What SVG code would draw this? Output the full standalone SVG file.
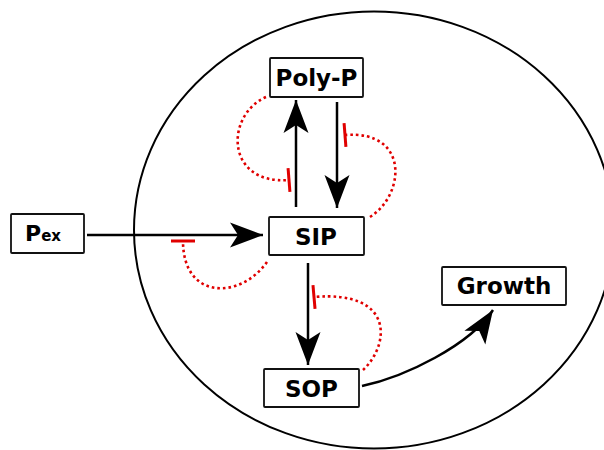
<svg xmlns="http://www.w3.org/2000/svg" width="604" height="450" viewBox="0 0 604 450">
  <style>
    .box { fill: #ffffff; stroke: #111111; stroke-width: 1.8; }
    .lbl { font-family: "DejaVu Sans", "Liberation Sans", sans-serif; font-weight: bold; font-size: 23px; fill: #000000; text-anchor: middle; }
    .act { fill: none; stroke: #000000; stroke-width: 2.5; marker-end: url(#arrow); }
    .inh { fill: none; stroke: #e00000; stroke-width: 2.6; stroke-dasharray: 2.6 3; marker-end: url(#tbar); }
  </style>
  <defs>
    <!-- concave-backed arrowhead, tip at the path end -->
    <marker id="arrow" markerUnits="userSpaceOnUse" viewBox="-34 -14 36 28" refX="0" refY="0" markerWidth="36" markerHeight="28" orient="auto">
      <path d="M0,0 L-33,-12.5 L-25,0 L-33,12.5 Z" fill="#000000"/>
    </marker>
    <!-- flat inhibition bar across the path end -->
    <marker id="tbar" markerUnits="userSpaceOnUse" viewBox="-3 -14 6 28" refX="0" refY="0" markerWidth="6" markerHeight="28" orient="auto">
      <line x1="0" y1="-12" x2="0" y2="12" stroke="#e00000" stroke-width="3"/>
    </marker>
  </defs>

  <rect width="604" height="450" fill="#ffffff"/>

  <!-- cell boundary -->
  <ellipse cx="374" cy="230" rx="240" ry="218.5" fill="none" stroke="#000000" stroke-width="2"/>

  <g id="connectors">
    <!-- activations -->
    <path class="act" d="M87,235 L263,235"/>
    <path class="act" d="M296,207 L296,100"/>
    <path class="act" d="M337,102 L337,208"/>
    <path class="act" d="M308,263 L308,365"/>
    <path class="act" d="M362,386 C405,377 470,345 493,310"/>
    <!-- inhibitions -->
    <path class="inh" d="M266,97 C225,115 225,185 289,180"/>
    <path class="inh" d="M370,217 C405,195 410,130 345,135"/>
    <path class="inh" d="M267,262 C240,300 183,300 183,241"/>
    <path class="inh" d="M363,370 C390,345 395,290 314,297"/>
  </g>

  <g id="pex">
    <rect class="box" x="11" y="214" width="73" height="39" rx="1"/>
    <text class="lbl" x="43" y="240.5"><tspan font-size="22">P</tspan><tspan font-size="15">ex</tspan></text>
  </g>
  <g id="polyp">
    <rect class="box" x="270" y="58" width="93" height="39" rx="1"/>
    <text class="lbl" x="316.5" y="85.5">Poly-P</text>
  </g>
  <g id="sip">
    <rect class="box" x="269" y="217" width="95" height="38" rx="1"/>
    <text class="lbl" x="316" y="245">SIP</text>
  </g>
  <g id="sop">
    <rect class="box" x="264" y="369" width="95" height="38" rx="1"/>
    <text class="lbl" x="311.5" y="397">SOP</text>
  </g>
  <g id="growth">
    <rect class="box" x="442" y="267" width="124" height="38" rx="1"/>
    <text class="lbl" x="504" y="294">Growth</text>
  </g>
</svg>
